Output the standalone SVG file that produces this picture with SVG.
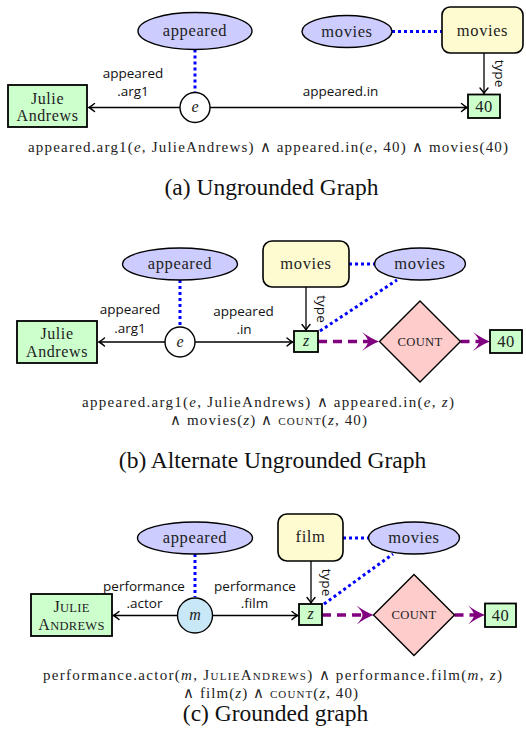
<svg xmlns="http://www.w3.org/2000/svg" xmlns:xlink="http://www.w3.org/1999/xlink" width="526" height="745" viewBox="0 0 526 745">
<style>
.ell{fill:#ccccff;stroke:#000;stroke-width:1.4}
.yel{fill:#fffbd0;stroke:#000;stroke-width:1.6}
.grn{fill:#ccffcc;stroke:#000;stroke-width:1.8}
.pink{fill:#ffcccc;stroke:#000;stroke-width:1.4}
.circ{fill:#fff;stroke:#000;stroke-width:1.4}
.mc{fill:#c9e8f7;stroke:#000;stroke-width:1.4}
.nt{font-family:"Liberation Serif",serif;font-size:16.5px;letter-spacing:0.6px;fill:#222;text-anchor:middle}
.bx{font-family:"Liberation Serif",serif;font-size:16px;letter-spacing:0.6px;fill:#222;text-anchor:middle}
.sc{font-family:"Liberation Serif",serif;font-size:12.6px;letter-spacing:0.3px;fill:#222;text-anchor:middle}
.var{font-family:"Liberation Serif",serif;font-size:16px;font-style:italic;fill:#222;text-anchor:middle}
.el{font-family:"Open Sans",sans-serif;font-size:13.5px;fill:#111;text-anchor:middle}
.fm{font-family:"Liberation Serif",serif;font-size:15px;fill:#222}
.cap{font-family:"Liberation Serif",serif;font-size:23.5px;fill:#111;text-anchor:middle}
.dot{stroke:#0000ff;stroke-width:3;stroke-dasharray:3 3;fill:none}
.pur{stroke:#800080;stroke-width:3.5;stroke-dasharray:9 6;fill:none;marker-end:url(#parr)}
.blk{stroke:#000;stroke-width:1.3;fill:none;marker-end:url(#arr)}
</style>
<defs>
<marker id="arr" viewBox="-8 -5 10 10" markerWidth="10" markerHeight="10" refX="0" refY="0" orient="auto" markerUnits="userSpaceOnUse">
<path d="M-5.5,-4 Q-2,-1 0,0 Q-2,1 -5.5,4" fill="none" stroke="#000" stroke-width="1.4" stroke-linecap="round"/>
</marker>
<marker id="parr" viewBox="-19 -11 21 22" markerWidth="21" markerHeight="22" refX="-11" refY="0" orient="auto" markerUnits="userSpaceOnUse">
<path d="M0,0 Q-8,-3 -17,-9.5 Q-11,-3.5 -11,0 Q-11,3.5 -17,9.5 Q-8,3 0,0 Z" fill="#800080"/>
</marker>
</defs>

<!-- Panel (a) -->
<g id="connectors-a">
<path class="dot" d="M195,49.5 V92"/>
<path class="dot" d="M392,31.5 H442"/>
<path class="blk" d="M180,107.5 H89"/>
<path class="blk" d="M210,107.5 H467"/>
<path class="blk" d="M484,53 V93.5"/>
<text class="el" x="133" y="78">appeared</text>
<text class="el" x="133" y="96">.arg1</text>
<text class="el" x="340.5" y="96">appeared.in</text>
<text class="el" transform="translate(494.5,73.5) rotate(90)">type</text>
</g>
<g id="a-appeared"><ellipse class="ell" cx="195" cy="31" rx="57" ry="18.5"/><text class="nt" x="195" y="36">appeared</text></g>
<g id="a-movies-concept"><ellipse class="ell" cx="347" cy="31.5" rx="45" ry="16"/><text class="nt" x="347" y="36.5">movies</text></g>
<g id="a-movies-type"><rect class="yel" x="442" y="7" width="81" height="46" rx="8"/><text class="nt" x="482.5" y="36">movies</text></g>
<g id="a-e"><circle class="circ" cx="195" cy="107.5" r="15"/><text class="var" x="195" y="112">e</text></g>
<g id="a-julie"><rect class="grn" x="8" y="85" width="79" height="42"/><text class="bx" x="47.5" y="103.5">Julie</text><text class="bx" x="47.5" y="121">Andrews</text></g>
<g id="a-40"><rect class="grn" x="468" y="94.5" width="32" height="23.5"/><text class="nt" x="484" y="111.5">40</text></g>
<text class="fm" x="28" y="151.5" textLength="480" lengthAdjust="spacing">appeared.arg1(<tspan font-style="italic">e</tspan>, JulieAndrews) ∧ appeared.in(<tspan font-style="italic">e</tspan>, 40) ∧ movies(40)</text>
<text class="cap" x="271.5" y="195">(a) Ungrounded Graph</text>

<!-- Panel (b) -->
<g id="connectors-b">
<path class="dot" d="M180,280 V326"/>
<path class="dot" d="M349,264 H374.5"/>
<path class="dot" d="M320,331 L397,280"/>
<path class="blk" d="M165,342 H99"/>
<path class="blk" d="M195,342 H292.5"/>
<path class="blk" d="M306,287 V330"/>
<path class="pur" d="M318,341.5 H368"/>
<path class="pur" d="M460.5,341.5 H479"/>
<text class="el" x="130" y="314">appeared</text>
<text class="el" x="130" y="332.5">.arg1</text>
<text class="el" x="243.5" y="316">appeared</text>
<text class="el" x="244" y="334">.in</text>
<text class="el" transform="translate(316.5,309) rotate(90)">type</text>
</g>
<g id="b-appeared"><ellipse class="ell" cx="180" cy="264" rx="57.5" ry="16"/><text class="nt" x="180" y="269">appeared</text></g>
<g id="b-movies-type"><rect class="yel" x="263" y="241" width="86" height="46" rx="9"/><text class="nt" x="306" y="269">movies</text></g>
<g id="b-movies-concept"><ellipse class="ell" cx="420" cy="264" rx="45.5" ry="16"/><text class="nt" x="420" y="269">movies</text></g>
<g id="b-e"><circle class="circ" cx="180" cy="342" r="15"/><text class="var" x="180" y="346.5">e</text></g>
<g id="b-julie"><rect class="grn" x="17" y="321" width="80" height="42"/><text class="bx" x="57" y="339">Julie</text><text class="bx" x="57" y="356.5">Andrews</text></g>
<g id="b-z"><rect class="grn" x="294" y="331" width="24" height="21"/><text class="var" x="306" y="346">z</text></g>
<g id="b-count"><polygon class="pink" points="420,301 460.5,341.5 420,382 379.5,341.5"/><text class="sc" x="420" y="345.7">COUNT</text></g>
<g id="b-40"><rect class="grn" x="490" y="330" width="32" height="23"/><text class="nt" x="506" y="347">40</text></g>
<text class="fm" x="82" y="407" textLength="372" lengthAdjust="spacing">appeared.arg1(<tspan font-style="italic">e</tspan>, JulieAndrews) ∧ appeared.in(<tspan font-style="italic">e</tspan>, <tspan font-style="italic">z</tspan>)</text>
<text class="fm" x="170" y="424.5" textLength="197" lengthAdjust="spacing">∧ movies(<tspan font-style="italic">z</tspan>) ∧ <tspan font-size="11px">COUNT</tspan>(<tspan font-style="italic">z</tspan>, 40)</text>
<text class="cap" x="272.5" y="468">(b) Alternate Ungrounded Graph</text>

<!-- Panel (c) -->
<g id="connectors-c">
<path class="dot" d="M195,554 V597"/>
<path class="dot" d="M343,538 H368.5"/>
<path class="dot" d="M324,604 L393,554"/>
<path class="blk" d="M177.5,615.5 H113.5"/>
<path class="blk" d="M212.5,615.5 H297.5"/>
<path class="blk" d="M311,561 V603"/>
<path class="pur" d="M322,615 H362.5"/>
<path class="pur" d="M454.5,615 H474"/>
<text class="el" x="144" y="591">performance</text>
<text class="el" x="144.5" y="608">.actor</text>
<text class="el" x="255" y="591">performance</text>
<text class="el" x="254.5" y="608">.film</text>
<text class="el" transform="translate(321.5,582.5) rotate(90)">type</text>
</g>
<g id="c-appeared"><ellipse class="ell" cx="195" cy="538" rx="57.5" ry="16"/><text class="nt" x="195" y="543">appeared</text></g>
<g id="c-film"><rect class="yel" x="278" y="514" width="65" height="47" rx="9"/><text class="nt" x="310.5" y="542">film</text></g>
<g id="c-movies-concept"><ellipse class="ell" cx="414" cy="538" rx="45.5" ry="16"/><text class="nt" x="414" y="543">movies</text></g>
<g id="c-m"><circle class="mc" cx="195" cy="615.5" r="17.5"/><text class="var" x="195" y="619.5">m</text></g>
<g id="c-julie"><rect class="grn" x="31" y="594" width="81" height="42"/>
<text class="nt" x="71.5" y="612" style="letter-spacing:0.3px"><tspan font-size="16px">J</tspan><tspan font-size="12.5px">ULIE</tspan></text>
<text class="nt" x="71.5" y="629.5" style="letter-spacing:0.3px"><tspan font-size="16px">A</tspan><tspan font-size="12.5px">NDREWS</tspan></text></g>
<g id="c-z"><rect class="grn" x="299" y="604" width="23" height="21"/><text class="var" x="310.5" y="619">z</text></g>
<g id="c-count"><polygon class="pink" points="414,574.5 454.5,615 414,655.5 373.5,615"/><text class="sc" x="414" y="619.2">COUNT</text></g>
<g id="c-40"><rect class="grn" x="485" y="603.5" width="31" height="23.5"/><text class="nt" x="500.5" y="620.5">40</text></g>
<text class="fm" x="43" y="680" textLength="459" lengthAdjust="spacing">performance.actor(<tspan font-style="italic">m</tspan>, J<tspan font-size="11px">ULIE</tspan>A<tspan font-size="11px">NDREWS</tspan>) ∧ performance.film(<tspan font-style="italic">m</tspan>, <tspan font-style="italic">z</tspan>)</text>
<text class="fm" x="183" y="697.5" textLength="175" lengthAdjust="spacing">∧ film(<tspan font-style="italic">z</tspan>) ∧ <tspan font-size="11px">COUNT</tspan>(<tspan font-style="italic">z</tspan>, 40)</text>
<text class="cap" x="275.5" y="721">(c) Grounded graph</text>
</svg>
